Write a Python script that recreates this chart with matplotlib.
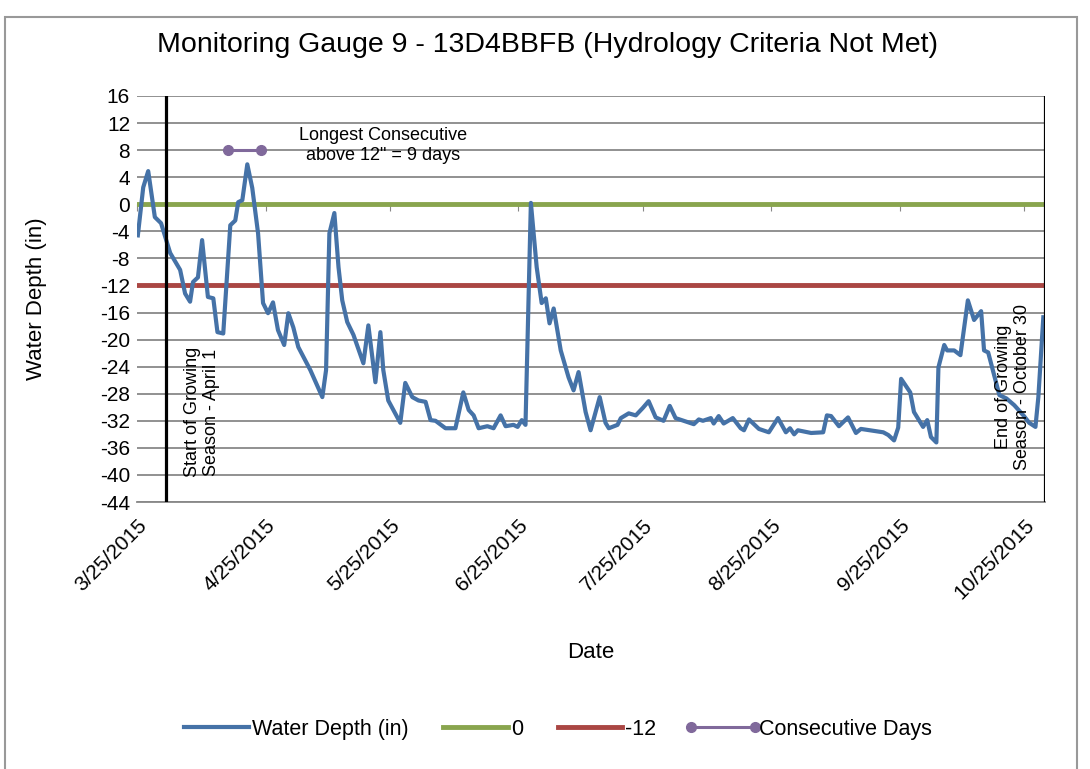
import datetime as dt
from matplotlib import pyplot as plt
from matplotlib import dates as mdates
from matplotlib.patches import Rectangle
import numpy as np

plt.rcParams['font.family'] = ['Liberation Sans', 'DejaVu Sans']
plt.rcParams['axes.unicode_minus'] = False

# days after 3/25/2015 and water depth (in)
days = [0.2, 1.5, 2.7, 4.3, 5.8, 8.0, 10.4, 11.6, 12.8, 13.5, 14.7, 15.7, 17.1, 18.4,
        19.4, 20.8, 22.5, 23.7, 24.4, 25.4, 26.6, 27.8, 29.2, 30.4, 31.6, 32.8, 34.0,
        35.5, 36.5, 37.7, 38.9, 41.8, 44.7, 45.6, 46.4, 47.6, 48.6, 49.5, 50.7, 52.2,
        54.6, 55.8, 57.5, 58.7, 59.4, 60.6, 63.5, 64.7, 66.4, 67.9, 69.6, 70.8, 72.0,
        74.4, 76.8, 78.7, 80.0, 81.2, 82.4, 84.5, 86.0, 87.7, 88.9, 90.8, 91.8, 92.8,
        93.7, 95.0, 96.4, 97.6, 98.6, 99.5, 100.5, 102.2, 104.1, 105.3, 106.5, 108.2,
        109.4, 111.6, 113.0, 113.8, 115.9, 116.7, 118.6, 120.3, 122.0, 123.4, 125.1,
        127.0, 128.5, 129.9, 134.3, 135.5, 136.5, 138.4, 139.1, 140.3, 141.5, 143.7,
        145.6, 146.4, 147.6, 150.0, 152.4, 154.6, 156.5, 157.5, 158.5, 159.4, 162.6,
        165.5, 166.4, 167.4, 169.3, 171.5, 173.4, 174.6, 177.8, 180.0, 181.2, 182.6,
        183.6, 184.3, 186.5, 187.4, 189.6, 190.6, 191.5, 192.8, 193.3, 194.7, 195.4,
        197.1, 198.6, 200.4, 201.9, 203.6, 204.3, 205.3, 208.0, 209.7, 211.6, 213.8,
        215.2, 216.7, 217.4, 218.6]
depth = [-4.6, 2.5, 4.9, -1.9, -2.8, -7.2, -9.7, -13.2, -14.4, -11.5, -10.8, -5.3, -13.7,
         -13.9, -18.9, -19.1, -3.1, -2.4, 0.3, 0.6, 5.9, 2.4, -4.3, -14.6, -16.1, -14.5,
         -18.6, -20.8, -16.1, -18.2, -21.1, -24.5, -28.5, -24.5, -4.3, -1.3, -9.3, -14.2,
         -17.4, -19.3, -23.5, -17.9, -26.3, -18.9, -24.5, -29.0, -32.3, -26.4, -28.5,
         -29.0, -29.2, -31.9, -32.0, -33.1, -33.1, -27.8, -30.4, -31.2, -33.1, -32.8,
         -33.1, -31.2, -32.8, -32.6, -32.9, -31.9, -32.6, 0.2, -9.3, -14.6, -13.9, -17.6,
         -15.4, -21.6, -25.6, -27.5, -24.8, -30.7, -33.4, -28.5, -32.3, -33.1, -32.6,
         -31.6, -30.9, -31.2, -30.1, -29.1, -31.5, -32.0, -29.8, -31.6, -32.5, -31.8,
         -32.0, -31.6, -32.4, -31.3, -32.4, -31.6, -33.1, -33.4, -31.8, -33.2, -33.7,
         -31.6, -33.7, -33.1, -34.0, -33.4, -33.8, -33.7, -31.2, -31.3, -32.8, -31.5,
         -33.8, -33.2, -33.5, -33.7, -34.1, -34.9, -33.0, -25.8, -27.8, -30.7, -32.9,
         -31.9, -34.4, -35.2, -24.1, -20.8, -21.6, -21.6, -22.3, -14.2, -17.1, -15.8,
         -21.6, -21.9, -28.2, -28.7, -29.7, -31.2, -32.3, -32.9, -28.5, -16.7]

consec_dates = [dt.date(2015, 4, 16), dt.date(2015, 4, 24)]
consec_vals = [8, 8]

season_start = dt.date(2015, 4, 1)
season_end = dt.date(2015, 10, 30)
axis_start = dt.date(2015, 3, 25)
tick_dates = [dt.date(2015, m, 25) for m in range(3, 11)]
tick_labels = [f'{d.month}/{d.day}/{d.year}' for d in tick_dates]

t0 = mdates.date2num(axis_start)
x = t0 + np.array(days)

fig = plt.figure(figsize=(10.9, 7.69), dpi=100)
fig.patches.append(Rectangle((0.005, -0.01), 0.983, 0.988, transform=fig.transFigure,
                             fill=False, edgecolor='#999999', linewidth=1.5))
ax = fig.add_axes([0.1257, 0.3472, 0.833, 0.528])

ax.plot(x, depth, color='#4572A7', lw=3, label='Water Depth (in)', zorder=4, solid_joinstyle='round')
ax.axhline(0, color='#89A54E', lw=3.5, label='0', zorder=3)
ax.axhline(-12, color='#AA4643', lw=3.5, label='-12', zorder=3)
ax.plot(mdates.date2num(consec_dates), consec_vals, '-o', color='#80699B', lw=2.2,
        ms=7, label='Consecutive Days', zorder=4)
ax.axvline(mdates.date2num(season_start), color='black', lw=2.3, zorder=5)
ax.axvline(mdates.date2num(season_end), color='black', lw=2.3, zorder=5)

ax.set_xlim(t0, mdates.date2num(season_end))
ax.set_ylim(-44, 16)
ax.set_yticks(np.arange(-44, 17, 4))
ax.yaxis.grid(True, color='#888888', lw=1.3)
ax.set_axisbelow(True)
for s in ['top', 'right', 'left']:
    ax.spines[s].set_visible(False)
ax.spines['bottom'].set_position(('data', 0))
ax.spines['bottom'].set_visible(False)
ax.tick_params(axis='y', length=0, labelsize=15, pad=5)
ax.set_xticks(mdates.date2num(tick_dates))
ax.tick_params(axis='x', direction='out', length=5, color='#888888', labelbottom=False)

sec = ax.secondary_xaxis(0.0)
sec.set_xticks(mdates.date2num(tick_dates), tick_labels)
sec.tick_params(length=0, labelsize=15, pad=10)
for lbl in sec.get_xticklabels():
    lbl.set_rotation(45)
    lbl.set_ha('right')
    lbl.set_rotation_mode('anchor')
sec.spines['bottom'].set_color('#888888')
sec.spines['bottom'].set_linewidth(1.3)
sec.set_xlabel('Date', fontsize=16, labelpad=28)

ax.set_ylabel('Water Depth (in)', fontsize=16, labelpad=38)
fig.text(0.502, 0.941, 'Monitoring Gauge 9 - 13D4BBFB (Hydrology Criteria Not Met)',
         ha='center', va='center', fontsize=20.5)

ax.text(t0 + 59.4, 8.7, 'Longest Consecutive\nabove 12" = 9 days', ha='center',
        va='center', fontsize=13, linespacing=1.25)
ax.text(t0 + 15.7, -30.7, 'Start of Growing\nSeason - April 1', rotation=90, ha='center',
        va='center', fontsize=13, linespacing=1.15, zorder=6)
ax.text(t0 + 211.4, -27, 'End of Growing\nSeason - October 30', rotation=90, ha='center',
        va='center', fontsize=13, linespacing=1.15, zorder=6)

ax.legend(loc='center', bbox_to_anchor=(0.46, -0.56), ncol=4, frameon=False, numpoints=2,
          fontsize=15.5, handlelength=3.6, columnspacing=1.3, handletextpad=-0.15)

fig.savefig('out.png', dpi=100)
